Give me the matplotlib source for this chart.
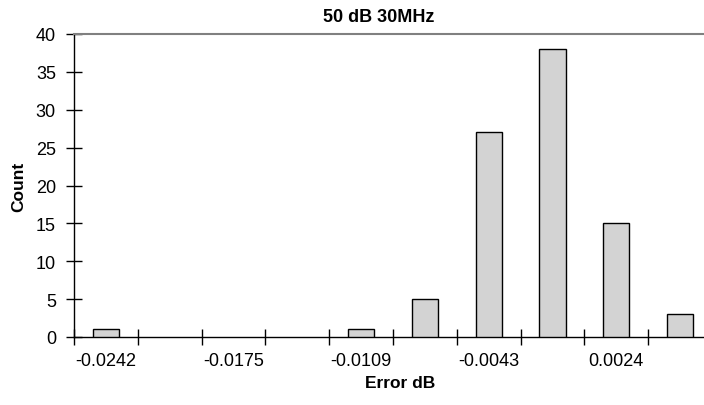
import matplotlib
matplotlib.use('Agg')
import matplotlib.pyplot as plt
import numpy as np

plt.rcParams['font.family'] = ['Liberation Sans', 'DejaVu Sans']

# histogram bins (category labels) and counts
BIN_LABELS = ['-0.0242', '-0.0209', '-0.0175', '-0.0142', '-0.0109',
              '-0.0076', '-0.0043', '-0.0009', '0.0024', '0.0057']
COUNTS = [1, 0, 0, 0, 1, 5, 27, 38, 15, 3]
Y_TICKS = [0, 5, 10, 15, 20, 25, 30, 35, 40]

W, H = 704, 406
fig = plt.figure(figsize=(W / 100, H / 100), dpi=100)
ax = fig.add_axes([74 / W, 1 - 338 / H, 638 / W, 303 / H])

x = np.arange(1, len(COUNTS) + 1)
# empty bins get no outline (Excel draws nothing there)
edges = ['black' if c > 0 else 'none' for c in COUNTS]
ax.bar(x, COUNTS, width=0.41, color='#d3d3d3', edgecolor=edges,
       linewidth=1.0, zorder=3)

ax.set_xlim(0.5, len(COUNTS) + 0.5)
ax.set_ylim(0, 40)
ax.set_yticks(Y_TICKS)

# ticks between categories, labels on every other category
ax.set_xticks(np.arange(0.5, len(COUNTS) + 1, 1.0))
ax.set_xticklabels([])
ax.set_xticks(x[::2], minor=True)
ax.set_xticklabels(BIN_LABELS[::2], minor=True)
ax.tick_params(axis='x', which='minor', length=0, pad=11, labelsize=13)
ax.tick_params(axis='x', which='major', direction='inout', length=12,
               width=1.0)
ax.tick_params(axis='y', direction='inout', length=12, width=1.0,
               labelsize=13, pad=7)

ax.spines['right'].set_visible(False)
ax.spines['top'].set_color('#808080')
ax.spines['top'].set_linewidth(1.5)
for s in ['left', 'bottom']:
    ax.spines[s].set_linewidth(1.0)

ax.set_title('50 dB 30MHz', fontweight='bold', fontsize=13, pad=9,
             x=(379 - 74) / 638)
ax.set_xlabel('Error dB', fontweight='bold', fontsize=12.5)
ax.xaxis.set_label_coords((400 - 74) / 638, -0.125)
ax.set_ylabel('Count', fontweight='bold', fontsize=12.5)
ax.yaxis.set_label_coords(-(74 - 26) / 638, 0.5)

fig.savefig('out.png', dpi=100, facecolor='white')
